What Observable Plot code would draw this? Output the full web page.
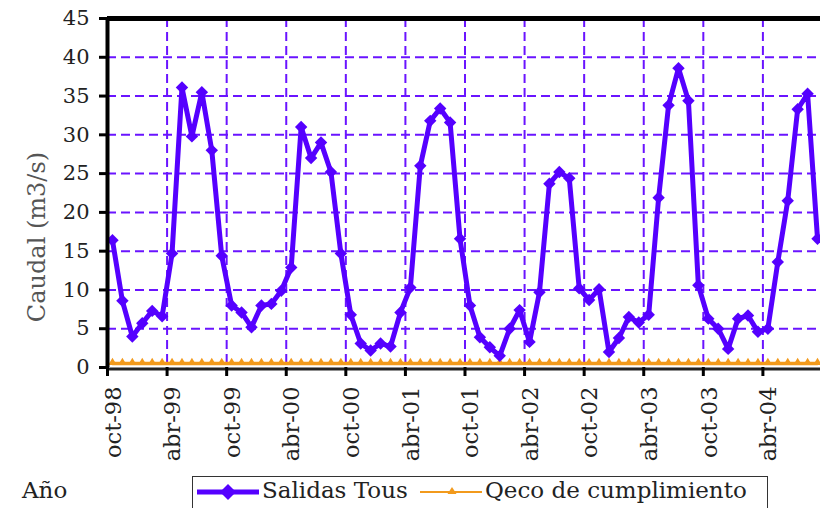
<!DOCTYPE html>
<html>
<head>
<meta charset="utf-8">
<script src="https://cdn.jsdelivr.net/npm/d3@7"></script>
<script src="https://cdn.jsdelivr.net/npm/@observablehq/plot@0.6"></script>
<style>
  html, body { margin: 0; padding: 0; background: #fff; }
  #wrap { width: 820px; height: 508px; overflow: hidden; position: relative; font-family: "DejaVu Serif", serif; }
  #legend { position: relative; width: 820px; height: 36px; }
  #legend .ano { position: absolute; left: 22px; top: 5px; font-size: 23px; color: #222; }
  #legend .box { position: absolute; left: 192px; top: 4px; width: 576px; height: 44px; border: 1.5px solid #333; box-sizing: border-box; }
  #legend .item { position: absolute; top: 5px; font-size: 23px; color: #222; white-space: nowrap; }
  #legend svg { position: absolute; top: 10px; }
</style>
</head>
<body>
<div id="wrap">
  <div id="chart"></div>
  <div id="legend"></div>
</div>
<script>
// ---- data ----
const tickLabels = ["oct-98","abr-99","oct-99","abr-00","oct-00","abr-01","oct-01","abr-02","oct-02","abr-03","oct-03","abr-04"];
const tickMonths = [0, 6, 12, 18, 24, 30, 36, 42, 48, 54, 60, 66];
const yTicks = [0, 5, 10, 15, 20, 25, 30, 35, 40, 45];
const yGrid = [5, 10, 15, 20, 25, 30, 35, 40];
// monthly values, oct-98 ... sep-04
const salidasTous = [
  16.4, 8.6, 4.0, 5.7, 7.3, 6.6, 14.7, 36.1, 29.8, 35.5, 28.0, 14.4,
  8.0, 7.1, 5.2, 8.0, 8.2, 9.9, 12.9, 31.0, 27.0, 29.0, 25.2, 14.7,
  6.8, 3.1, 2.2, 3.1, 2.7, 7.1, 10.3, 26.0, 31.8, 33.4, 31.6, 16.6,
  8.0, 3.9, 2.6, 1.5, 5.0, 7.4, 3.3, 9.7, 23.7, 25.2, 24.4, 10.2,
  8.7, 10.1, 2.0, 3.8, 6.5, 5.8, 6.8, 21.9, 33.8, 38.6, 34.4, 10.6,
  6.3, 5.0, 2.4, 6.3, 6.7, 4.6, 5.0, 13.6, 21.5, 33.3, 35.3, 16.6
];
const qecoCumplimiento = [
  0.5, 0.5, 0.5, 0.5, 0.5, 0.5, 0.5, 0.5, 0.5, 0.5, 0.5, 0.5,
  0.5, 0.5, 0.5, 0.5, 0.5, 0.5, 0.5, 0.5, 0.5, 0.5, 0.5, 0.5,
  0.5, 0.5, 0.5, 0.5, 0.5, 0.5, 0.5, 0.5, 0.5, 0.5, 0.5, 0.5,
  0.5, 0.5, 0.5, 0.5, 0.5, 0.5, 0.5, 0.5, 0.5, 0.5, 0.5, 0.5,
  0.5, 0.5, 0.5, 0.5, 0.5, 0.5, 0.5, 0.5, 0.5, 0.5, 0.5, 0.5,
  0.5, 0.5, 0.5, 0.5, 0.5, 0.5, 0.5, 0.5, 0.5, 0.5, 0.5, 0.5
];
const seriesNames = ["Salidas Tous", "Qeco de cumplimiento"];
const yLabel = "Caudal (m3/s)";
const xLabel = "Año";

// ---- styles ----
const purple = "#5500ff";
const gridColor = "#6a14ff";
const orange = "#f29a1c";

const salidasData = salidasTous.map((v, i) => ({m: i + 0.5, v}));
const qecoData = qecoCumplimiento.map((v, i) => ({m: i + 0.5, v}));
const fmt = d => tickLabels[tickMonths.indexOf(d)];

const chart = Plot.plot({
  width: 820,
  height: 472,
  marginLeft: 107,
  marginRight: 0,
  marginTop: 18,
  marginBottom: 105,
  x: {domain: [0, 71.8]},
  y: {domain: [0, 45]},
  style: {fontFamily: "'DejaVu Serif', serif", background: "white", color: "#222"},
  marks: [
    Plot.gridY(yGrid, {stroke: gridColor, strokeOpacity: 1, strokeWidth: 2, strokeDasharray: "9,5"}),
    Plot.gridX(tickMonths.slice(1), {stroke: gridColor, strokeOpacity: 1, strokeWidth: 2, strokeDasharray: "9,5"}),
    Plot.ruleY([45], {stroke: "black", strokeWidth: 5}),
    Plot.ruleY([0], {stroke: "#222", strokeWidth: 3, dy: 1.5}),
    Plot.line(qecoData, {x: "m", y: "v", stroke: orange, strokeWidth: 3.5}),
    Plot.dot(qecoData, {x: "m", y: "v", symbol: "triangle", r: 3.2, fill: orange, dy: -1}),
    Plot.line(salidasData, {x: "m", y: "v", stroke: purple, strokeWidth: 5}),
    Plot.dot(salidasData, {x: "m", y: "v", symbol: "diamond2", r: 5.6, fill: purple}),
    Plot.ruleX([0], {stroke: "black", strokeWidth: 4}),
    Plot.axisY(yTicks, {tickSize: 8, tickPadding: 10, fontSize: 21, stroke: "black", strokeWidth: 3, fill: "#222", label: null}),
    Plot.axisX(tickMonths, {tickSize: 9, stroke: "black", strokeWidth: 3, tickFormat: () => "", label: null}),
    Plot.axisX(tickMonths, {tickSize: 0, tickPadding: 19, tickRotate: -90, fontSize: 22.5, fill: "#222", dx: 6,
      tickFormat: fmt, label: null}),
    Plot.text([yLabel], {frameAnchor: "left", textAnchor: "middle", dx: -70, dy: 44, rotate: -90, fontSize: 24, fill: "#555"})
  ]
});
document.getElementById("chart").appendChild(chart);

// ---- legend ----
const lg = document.getElementById("legend");
lg.innerHTML = `
  <div class="ano">${xLabel}</div>
  <div class="box"></div>
  <svg style="left:197px" width="62" height="20"><line x1="0" y1="10" x2="62" y2="10" stroke="${purple}" stroke-width="5"/><path d="M31,2 L39,10 L31,18 L23,10 Z" fill="${purple}"/></svg>
  <div class="item" style="left:262px">${seriesNames[0]}</div>
  <svg style="left:420px" width="62" height="20"><line x1="0" y1="10" x2="62" y2="10" stroke="${orange}" stroke-width="2"/><path d="M32,5 L36.5,12 L27.5,12 Z" fill="${orange}"/></svg>
  <div class="item" style="left:485px">${seriesNames[1]}</div>
`;
</script>
</body>
</html>
